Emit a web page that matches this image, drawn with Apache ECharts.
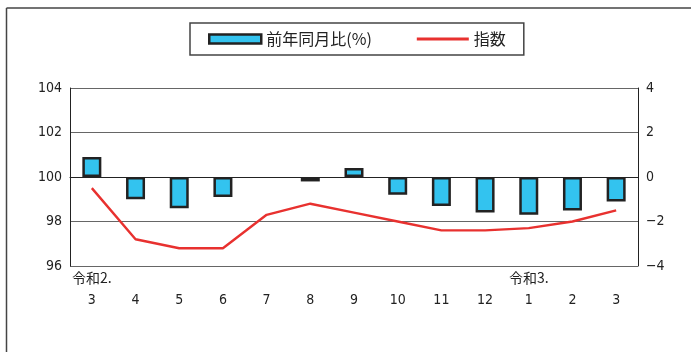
<!DOCTYPE html>
<html>
<head>
<meta charset="utf-8">
<script src="https://cdn.jsdelivr.net/npm/echarts@6/dist/echarts.min.js"></script>
<style>
  html, body { margin: 0; padding: 0; background: #fff; }
  #chart { width: 691px; height: 352px; }
</style>
</head>
<body>
<div id="chart"></div>
<script>
// months on the axis, era marks shown above them
const months = ['3', '4', '5', '6', '7', '8', '9', '10', '11', '12', '1', '2', '3']
const eras = ['令和2.', '', '', '', '', '', '', '', '', '', '令和3.', '', '']

// 前年同月比 (%) — right axis
const yoy = [0.9, -1.0, -1.4, -0.9, 0, -0.2, 0.4, -0.8, -1.3, -1.6, -1.7, -1.5, -1.1]
// 指数 — left axis
const index = [99.5, 97.2, 96.8, 96.8, 98.3, 98.8, 98.4, 98.0, 97.6, 97.6, 97.7, 98.0, 98.5]

const leftTicks = { min: 96, max: 104, interval: 2 }
const rightTicks = { min: -4, max: 4, interval: 2 }

const numFont = '"Liberation Sans Narrow", "DejaVu Sans Condensed", sans-serif'
const jpFont = '"Noto Sans CJK JP", sans-serif'

const chart = echarts.init(document.getElementById('chart'))

// a zero change draws no box at all
const barData = yoy.map(v => (v === 0 ? { value: v, itemStyle: { borderWidth: 0 } } : v))

const option = {
  animation: false,
  backgroundColor: '#fff',
  graphic: [
    { type: 'line', shape: { x1: 6.5, y1: 8, x2: 691, y2: 8 }, style: { stroke: '#444', lineWidth: 1.5 } },
    { type: 'line', shape: { x1: 6.5, y1: 8, x2: 6.5, y2: 352 }, style: { stroke: '#444', lineWidth: 1.5 } }
  ],
  legend: {
    left: 190,
    top: 23,
    padding: [8, 18, 8, 18],
    borderColor: '#444',
    borderWidth: 1.5,
    itemGap: 45,
    itemWidth: 52,
    itemHeight: 9,
    textStyle: { fontFamily: jpFont, fontSize: 16, color: '#222' },
    data: [
      { name: '前年同月比(%)', icon: 'rect', itemStyle: { color: '#33c3ef', borderColor: '#222', borderWidth: 2.5 } },
      { name: '指数', icon: 'path://M0,0H52V3H0Z', itemStyle: { color: '#e8312f' } }
    ]
  },
  grid: { left: 70, right: 53, top: 88, bottom: 86 },
  xAxis: [
    {
      type: 'category',
      data: months,
      axisLine: { lineStyle: { color: '#222', width: 1 } },
      axisTick: { show: false },
      axisLabel: { margin: 27, fontFamily: numFont, fontSize: 14, color: '#222' }
    },
    {
      type: 'category',
      data: eras,
      position: 'bottom',
      axisLine: { show: false },
      axisTick: { show: false },
      axisLabel: { margin: 5, interval: 0, fontFamily: jpFont, fontSize: 14, color: '#222' }
    }
  ],
  yAxis: [
    {
      type: 'value',
      ...leftTicks,
      axisLine: { show: true, lineStyle: { color: '#222', width: 1 } },
      axisTick: { show: false },
      splitLine: { lineStyle: { color: '#666', width: 1 } },
      axisLabel: { margin: 8, fontFamily: numFont, fontSize: 14, color: '#222' }
    },
    {
      type: 'value',
      ...rightTicks,
      axisLine: { show: true, lineStyle: { color: '#222', width: 1 } },
      axisTick: { show: false },
      splitLine: { show: false },
      axisLabel: {
        margin: 8, fontFamily: numFont, fontSize: 14, color: '#222',
        formatter: v => (v < 0 ? '\u2212' + Math.abs(v) : String(v))
      }
    }
  ],
  series: [
    {
      name: '前年同月比(%)',
      type: 'bar',
      yAxisIndex: 1,
      barWidth: 19,
      itemStyle: { color: '#33c3ef', borderColor: '#222', borderWidth: 2.5 },
      data: barData
    },
    {
      name: '指数',
      type: 'line',
      yAxisIndex: 0,
      symbol: 'none',
      lineStyle: { color: '#e8312f', width: 2.4 },
      itemStyle: { color: '#e8312f' },
      data: index
    }
  ]
}

chart.setOption(option)
</script>
</body>
</html>
